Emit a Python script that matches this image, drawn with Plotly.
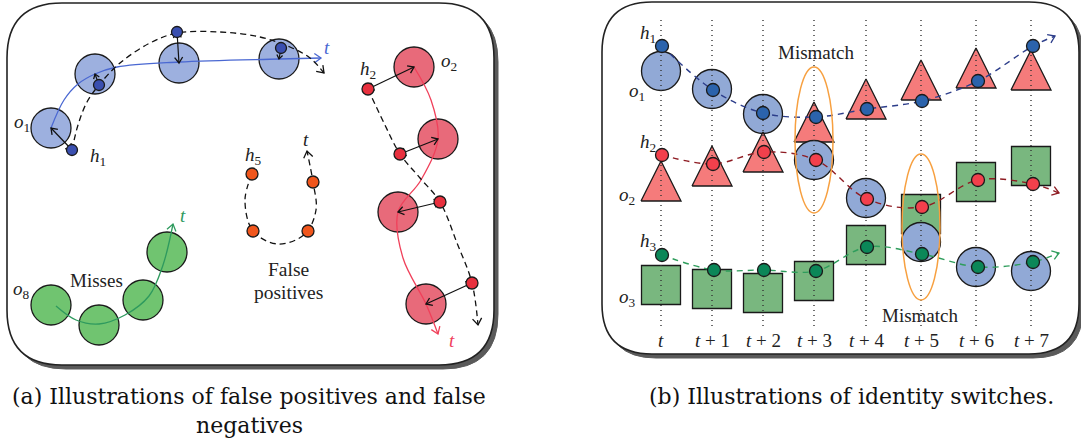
import plotly.graph_objects as go
import math

# ---------------- data ----------------
W, H = 1081, 441
FONT = "Liberation Serif"
CAP_FONT = "DejaVu Serif"

# Panel (a): blue object o1 and hypothesis h1
a_blue_obj_x = [51, 95, 179, 279]
a_blue_obj_y = [128, 74, 63, 59]
a_blue_hyp_x = [72, 99, 177, 281]
a_blue_hyp_y = [150, 85, 32, 48]
a_blue_path_x = [51, 64, 78, 95, 117, 179, 279, 321]
a_blue_path_y = [128, 100, 84, 74, 67, 62, 59, 58]
a_blue_hpath_x = [72, 78, 87, 99, 120, 150, 177, 220, 260, 290, 310, 324]
a_blue_hpath_y = [150, 125, 102, 85, 63, 43, 33, 32, 37, 47, 58, 73]

# Panel (a): red object o2 and hypothesis h2
a_red_obj_x = [414, 438, 398, 426]
a_red_obj_y = [67, 139, 212, 304]
a_red_hyp_x = [368, 400, 440, 472]
a_red_hyp_y = [89, 154, 202, 283]
a_red_path_x = [414, 431, 438, 421, 398, 403, 426, 438]
a_red_path_y = [67, 100, 139, 180, 212, 258, 304, 334]
a_red_hpath_x = [368, 384, 400, 420, 440, 457, 472, 478]
a_red_hpath_y = [89, 123, 154, 178, 202, 243, 283, 325]

# Panel (a): false positives h5
a_fp_x = [252, 253, 308, 313]
a_fp_y = [174, 231, 231, 182]
a_fp_path_x = [252, 245, 253, 278, 305, 316, 313, 307]
a_fp_path_y = [174, 200, 231, 244, 234, 210, 182, 151]

# Panel (a): missed object o8
a_miss_x = [51, 99, 143, 167]
a_miss_y = [305, 325, 300, 252]
a_miss_path_x = [56, 76, 99, 125, 149, 163, 173]
a_miss_path_y = [306, 320, 324, 315, 296, 265, 224]

# Panel (b): time steps
time_labels = ["<i>t</i>", "<i>t</i> + 1", "<i>t</i> + 2", "<i>t</i> + 3",
               "<i>t</i> + 4", "<i>t</i> + 5", "<i>t</i> + 6", "<i>t</i> + 7"]
time_x = [661, 712, 763, 814, 866, 921, 976, 1031]

# Ground-truth objects per row: shape kind and center y
row1_kind = ["circle", "circle", "circle", "tri", "tri", "tri", "tri", "tri"]
row1_y = [71, 89, 114, 122, 99, 80, 68, 70]
row2_kind = ["tri", "tri", "tri", "circle", "circle", "square", "square", "square"]
row2_y = [181, 166, 152, 160, 198, 214, 182, 166]
row3_kind = ["square", "square", "square", "square", "square", "circle", "circle", "circle"]
row3_y = [285, 289, 293, 281, 245, 242, 267, 271]

# Hypotheses per row
hyp1_x = [662, 713, 763, 816, 867, 922, 978, 1033, 1055]
hyp1_y = [46, 90, 113, 117, 109, 101, 81, 46, 36]
hyp2_x = [662, 713, 764, 816, 867, 922, 978, 1033, 1059]
hyp2_y = [155, 164, 152, 160, 199, 207, 180, 184, 193]
hyp3_x = [662, 714, 764, 816, 867, 922, 978, 1033, 1059]
hyp3_y = [255, 270, 270, 271, 247, 254, 267, 262, 253]

# Mismatch ellipses (center x, center y)
mism_x = [814, 921]
mism_y = [140, 227]

# ---------------- styles ----------------
OUT = "#1a1a1a"
C_BLUE_A = "#9db0df"
C_BLUE_DOT = "#3a4fb0"
C_BLUE_LINE = "#4a68d2"
C_RED_A = "#e86a7a"
C_RED_DOT = "#e8303e"
C_RED_LINE = "#f0405a"
C_ORANGE = "#f0561c"
C_GREEN_A = "#70c470"
C_GREEN_LINE = "#2e9a5e"

C_B_CIRC = "#91a9d6"
C_B_TRI = "#f57b7b"
C_B_SQ = "#79b77f"
C_B_BLUEDOT = "#2b63ac"
C_B_REDDOT = "#f2404c"
C_B_GREENDOT = "#0b8758"
C_B_BLUEDASH = "#2c3d8a"
C_B_REDDASH = "#8e1b22"
C_B_GREENDASH = "#2f9d5c"
C_ELL = "#f7a040"

fig = go.Figure()
shapes = []


def rrect(x0, y0, x1, y1, r):
    return (f"M{x0+r},{y0} L{x1-r},{y0} Q{x1},{y0} {x1},{y0+r} L{x1},{y1-r} "
            f"Q{x1},{y1} {x1-r},{y1} L{x0+r},{y1} Q{x0},{y1} {x0},{y1-r} "
            f"L{x0},{y0+r} Q{x0},{y0} {x0+r},{y0} Z")


for (x0, y0, x1, y1, r) in [(7, 3, 494, 365, 55), (602, 2, 1079, 354, 50)]:
    shapes.append(dict(type="path", xref="x", yref="y", path=rrect(x0 + 4, y0 + 4, x1 + 4, y1 + 4, r),
                       fillcolor="#5a5a5a", line=dict(color="#5a5a5a", width=1), layer="below"))
    shapes.append(dict(type="path", xref="x", yref="y", path=rrect(x0, y0, x1, y1, r),
                       fillcolor="white", line=dict(color="#222222", width=1.6), layer="below"))


def markers(xs, ys, color, size, symbol="circle", lw=1.3):
    fig.add_trace(go.Scatter(x=xs, y=ys, mode="markers", hoverinfo="skip",
                             marker=dict(size=size, color=color, symbol=symbol,
                                         line=dict(color=OUT, width=lw))))


def curve(xs, ys, color, dash="solid", width=1.3):
    fig.add_trace(go.Scatter(x=xs, y=ys, mode="lines", hoverinfo="skip",
                             line=dict(color=color, width=width, dash=dash, shape="spline", smoothing=1.0)))


def chevron(tx, ty, fx, fy, color, length=8, ang=35, width=1.3):
    """Open arrow head at (tx,ty) pointing away from (fx,fy)."""
    dx, dy = tx - fx, ty - fy
    n = math.hypot(dx, dy)
    ux, uy = dx / n, dy / n
    pts_x, pts_y = [], []
    for s in (1, -1):
        a = math.radians(ang) * s
        rx = ux * math.cos(a) - uy * math.sin(a)
        ry = ux * math.sin(a) + uy * math.cos(a)
        pts_x.append(tx - length * rx)
        pts_y.append(ty - length * ry)
    fig.add_trace(go.Scatter(x=[pts_x[0], tx, pts_x[1]], y=[pts_y[0], ty, pts_y[1]],
                             mode="lines", hoverinfo="skip",
                             line=dict(color=color, width=width)))


def arrow_end(xs, ys, color):
    chevron(xs[-1], ys[-1], xs[-2], ys[-2], color)


def dbl_arrow(x0, y0, x1, y1):
    fig.add_trace(go.Scatter(x=[x0, x1], y=[y0, y1], mode="lines", hoverinfo="skip",
                             line=dict(color="#111111", width=1.2)))
    L = min(7, 0.45 * math.hypot(x1 - x0, y1 - y0))
    chevron(x1, y1, x0, y0, "#111111", length=L)
    chevron(x0, y0, x1, y1, "#111111", length=L)


def label(x, y, text, size=19, color="#222222", family=FONT):
    fig.add_annotation(x=x, y=y, xref="x", yref="y", text=text, showarrow=False,
                       font=dict(family=family, size=size, color=color))


# ---------------- panel (a) ----------------
markers(a_blue_obj_x, a_blue_obj_y, C_BLUE_A, 40)
curve(a_blue_path_x, a_blue_path_y, C_BLUE_LINE)
arrow_end(a_blue_path_x, a_blue_path_y, C_BLUE_LINE)
curve(a_blue_hpath_x, a_blue_hpath_y, "#111111", dash="6px,4px")
arrow_end(a_blue_hpath_x, a_blue_hpath_y, "#111111")
for ox, oy, hx, hy in zip(a_blue_obj_x, a_blue_obj_y, a_blue_hyp_x, a_blue_hyp_y):
    dbl_arrow(ox, oy, hx, hy)
markers(a_blue_hyp_x, a_blue_hyp_y, C_BLUE_DOT, 11)

markers(a_red_obj_x, a_red_obj_y, C_RED_A, 40)
curve(a_red_path_x, a_red_path_y, C_RED_LINE)
arrow_end(a_red_path_x, a_red_path_y, C_RED_LINE)
curve(a_red_hpath_x, a_red_hpath_y, "#111111", dash="6px,4px")
arrow_end(a_red_hpath_x, a_red_hpath_y, "#111111")
for ox, oy, hx, hy in zip(a_red_obj_x, a_red_obj_y, a_red_hyp_x, a_red_hyp_y):
    dbl_arrow(ox, oy, hx, hy)
markers(a_red_hyp_x, a_red_hyp_y, C_RED_DOT, 12)

curve(a_fp_path_x, a_fp_path_y, "#111111", dash="6px,4px")
arrow_end(a_fp_path_x, a_fp_path_y, "#111111")
markers(a_fp_x, a_fp_y, C_ORANGE, 12)

markers(a_miss_x, a_miss_y, C_GREEN_A, 40)
curve(a_miss_path_x, a_miss_path_y, C_GREEN_LINE)
arrow_end(a_miss_path_x, a_miss_path_y, C_GREEN_LINE)

label(22, 123, "<i>o</i><sub>1</sub>")
label(98, 157, "<i>h</i><sub>1</sub>")
label(327, 47, "<i>t</i>", color=C_BLUE_LINE)
label(368, 70, "<i>h</i><sub>2</sub>")
label(449, 62, "<i>o</i><sub>2</sub>")
label(452, 340, "<i>t</i>", color=C_RED_LINE)
label(253, 156, "<i>h</i><sub>5</sub>")
label(306, 139, "<i>t</i>")
label(183, 215, "<i>t</i>", color=C_GREEN_LINE)
label(21, 290, "<i>o</i><sub>8</sub>")
label(96, 280, "Misses", size=19)
label(288, 269, "False", size=19.5)
label(288, 292, "positives", size=19.5)

# ---------------- panel (b) ----------------
def tri(cx, cy, color):
    half, hgt = 20, 40
    fig.add_trace(go.Scatter(x=[cx - half, cx + half, cx, cx - half],
                             y=[cy + hgt / 2, cy + hgt / 2, cy - hgt / 2, cy + hgt / 2],
                             mode="lines", fill="toself", fillcolor=color, hoverinfo="skip",
                             line=dict(color=OUT, width=1.3)))


def draw_obj(kind, cx, cy):
    if kind == "circle":
        markers([cx], [cy], C_B_CIRC, 39)
    elif kind == "tri":
        tri(cx, cy, C_B_TRI)
    else:
        markers([cx], [cy], C_B_SQ, 39, symbol="square")


for kinds, ys in [(row1_kind, row1_y), (row2_kind, row2_y), (row3_kind, row3_y)]:
    for k, x, y in zip(kinds, time_x, ys):
        draw_obj(k, x, y)

# ellipses
for ex, ey in zip(mism_x, mism_y):
    shapes.append(dict(type="circle", xref="x", yref="y", x0=ex - 19, x1=ex + 19,
                       y0=ey - 73, y1=ey + 73, line=dict(color=C_ELL, width=1.5), layer="above"))

# dotted time lines
for x in time_x:
    fig.add_trace(go.Scatter(x=[x, x], y=[20, 330], mode="lines", hoverinfo="skip",
                             line=dict(color="#333333", width=1.4, dash="1px,4px")))

for hx, hy, dc, lc in [(hyp1_x, hyp1_y, C_B_BLUEDOT, C_B_BLUEDASH),
                       (hyp2_x, hyp2_y, C_B_REDDOT, C_B_REDDASH),
                       (hyp3_x, hyp3_y, C_B_GREENDOT, C_B_GREENDASH)]:
    curve(hx, hy, lc, dash="6px,5px", width=1.4)
    arrow_end(hx, hy, lc)
    markers(hx[:-1], hy[:-1], dc, 13)

for lab, x in zip(time_labels, time_x):
    label(x, 340, lab, size=19)

label(648, 34, "<i>h</i><sub>1</sub>")
label(637, 92, "<i>o</i><sub>1</sub>")
label(648, 143, "<i>h</i><sub>2</sub>")
label(627, 196, "<i>o</i><sub>2</sub>")
label(648, 242, "<i>h</i><sub>3</sub>")
label(627, 298, "<i>o</i><sub>3</sub>")
label(816, 52, "Mismatch", size=19)
label(920, 315, "Mismatch", size=19)

# ---------------- captions ----------------
label(249, 396, "(a) Illustrations of false positives and false", size=22, color="#111111", family=CAP_FONT)
label(249, 425, "negatives", size=22, color="#111111", family=CAP_FONT)
label(851, 396, "(b) Illustrations of identity switches.", size=22, color="#111111", family=CAP_FONT)

fig.update_layout(
    width=W, height=H, margin=dict(l=0, r=0, t=0, b=0),
    paper_bgcolor="white", plot_bgcolor="white", showlegend=False,
    xaxis=dict(range=[0, W], visible=False, fixedrange=True),
    yaxis=dict(range=[H, 0], visible=False, fixedrange=True),
    shapes=shapes,
)
fig.write_html("out.html")
